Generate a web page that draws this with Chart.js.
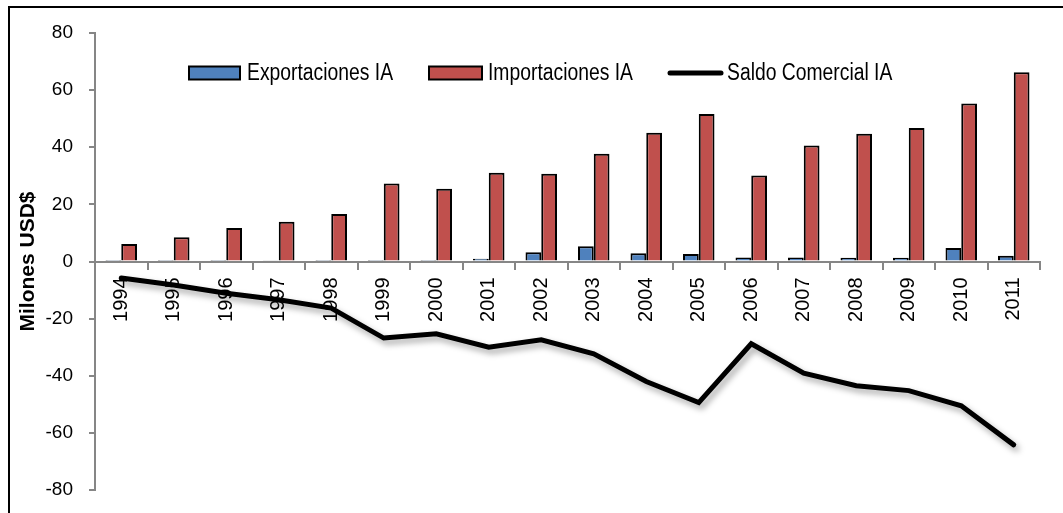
<!DOCTYPE html>
<html>
<head>
<meta charset="utf-8">
<script src="https://cdn.jsdelivr.net/npm/chart.js@4.4.1/dist/chart.umd.min.js"></script>
<style>
  html, body { margin: 0; padding: 0; background: #fff; overflow: hidden; }
  #wrap { position: relative; width: 1063px; height: 513px; overflow: hidden; }
  #frame { position: absolute; left: 8px; top: 6px; width: 1100px; height: 600px;
           border-left: 2px solid #000; border-top: 2px solid #000; pointer-events: none; }
  canvas { position: absolute; left: 0; top: 0; }
</style>
</head>
<body>
<div id="wrap">
  <canvas id="chart" width="1063" height="518"></canvas>
  <div id="frame"></div>
</div>
<script>
var years = ["1994", "1995", "1996", "1997", "1998", "1999", "2000", "2001", "2002",
             "2003", "2004", "2005", "2006", "2007", "2008", "2009", "2010", "2011"];
var exportaciones = [0.2, 0.2, 0.2, 0.3, 0.2, 0.2, 0.2, 1.0, 3.2, 5.3, 2.9, 2.6, 1.4, 1.4, 1.3, 1.3, 4.7, 2.0];
var importaciones = [6.1, 8.5, 11.7, 13.9, 16.6, 27.3, 25.5, 31.1, 30.7, 37.7, 45.1, 51.6, 30.1, 40.6, 44.7, 46.7, 55.3, 66.3];
var saldo = [-5.8, -8.2, -11.1, -13.4, -16.3, -26.8, -25.3, -30.0, -27.4, -32.3, -42.0, -49.4, -28.8, -39.1, -43.5, -45.2, -50.5, -64.2];
var seriesNames = ["Exportaciones IA", "Importaciones IA", "Saldo Comercial IA"];
var yMin = -80, yMax = 80, yStep = 20;

var AXIS_GREY = "#868686";
var FONT = "'Liberation Sans', Arial, sans-serif";

// soft shadow under the saldo line
var lineShadow = {
  id: "lineShadow",
  beforeDatasetDraw: function (chart, args) {
    if (args.index !== 2) return;
    var c = chart.ctx;
    c.save();
    c.shadowColor = "rgba(0,0,0,0.35)";
    c.shadowBlur = 6;
    c.shadowOffsetX = 3;
    c.shadowOffsetY = 4;
  },
  afterDatasetDraw: function (chart, args) {
    if (args.index === 2) chart.ctx.restore();
  }
};

// legend drawn inside the plot, like the original (condensed text)
var innerLegend = {
  id: "innerLegend",
  afterDraw: function (chart) {
    var c = chart.ctx;
    var ds = chart.data.datasets;
    var cy = 73;
    var items = [
      { x: 189, w: 51, tx: 247 },
      { x: 429, w: 53, tx: 488 },
      { x: 668, w: 55, tx: 727 }
    ];
    c.save();
    for (var i = 0; i < items.length; i++) {
      var it = items[i];
      if (i < 2) {
        c.fillStyle = ds[i].backgroundColor;
        c.fillRect(it.x, cy - 6.5, it.w, 13);
        c.lineWidth = 2;
        c.strokeStyle = "#000";
        c.strokeRect(it.x, cy - 6.5, it.w, 13);
      } else {
        c.beginPath();
        c.lineWidth = 5;
        c.lineCap = "round";
        c.strokeStyle = "#000";
        c.moveTo(it.x + 2, cy);
        c.lineTo(it.x + it.w - 2, cy);
        c.stroke();
      }
      c.save();
      c.translate(it.tx, cy + 1);
      c.scale(0.84, 1);
      c.font = "23px " + FONT;
      c.textBaseline = "middle";
      c.fillStyle = "#000";
      c.fillText(ds[i].label, 0, 0);
      c.restore();
    }
    c.restore();
  }
};

var ctx = document.getElementById("chart").getContext("2d");
var myChart = new Chart(ctx, {
  type: "bar",
  data: {
    labels: years,
    datasets: [
      {
        label: seriesNames[0],
        data: exportaciones,
        backgroundColor: "#4F81BD",
        borderColor: "#000",
        borderWidth: 2,
        order: 1
      },
      {
        label: seriesNames[1],
        data: importaciones,
        backgroundColor: "#C0504D",
        borderColor: "#000",
        borderWidth: 2,
        order: 1
      },
      {
        type: "line",
        label: seriesNames[2],
        data: saldo,
        borderColor: "#000",
        backgroundColor: "#000",
        borderWidth: 5,
        borderCapStyle: "round",
        pointRadius: 0,
        tension: 0,
        fill: false,
        order: 0
      }
    ]
  },
  options: {
    responsive: false,
    animation: false,
    datasets: {
      bar: { categoryPercentage: 0.6, barPercentage: 1.0 }
    },
    layout: {
      padding: { top: 33, bottom: 28, left: 0, right: 23 }
    },
    plugins: {
      legend: { display: false },
      tooltip: { enabled: false }
    },
    scales: {
      x: {
        position: { y: 0 },
        // axis sits at zero, its labels must not eat plot space
        afterFit: function (scale) { scale.paddingTop = 0; scale.paddingBottom = 0; },
        grid: {
          drawOnChartArea: false,
          drawTicks: true,
          tickLength: 7,
          color: AXIS_GREY,
          lineWidth: 2
        },
        border: { display: true, color: AXIS_GREY, width: 2 },
        ticks: {
          minRotation: 90,
          maxRotation: 90,
          padding: 9,
          color: "#000",
          font: { family: FONT, size: 20 }
        }
      },
      y: {
        min: yMin,
        max: yMax,
        afterFit: function (scale) { scale.width = 95; },
        grid: {
          drawOnChartArea: false,
          drawTicks: true,
          tickLength: 6,
          color: AXIS_GREY,
          lineWidth: 2
        },
        border: { display: true, color: AXIS_GREY, width: 2 },
        ticks: {
          stepSize: yStep,
          padding: 16,
          color: "#000",
          font: { family: FONT, size: 19 }
        },
        title: {
          display: true,
          text: "Milones USD$",
          color: "#000",
          padding: { top: 16, bottom: 0 },
          font: { family: FONT, size: 21, weight: "bold" }
        }
      }
    }
  },
  plugins: [lineShadow, innerLegend]
});
</script>
</body>
</html>
